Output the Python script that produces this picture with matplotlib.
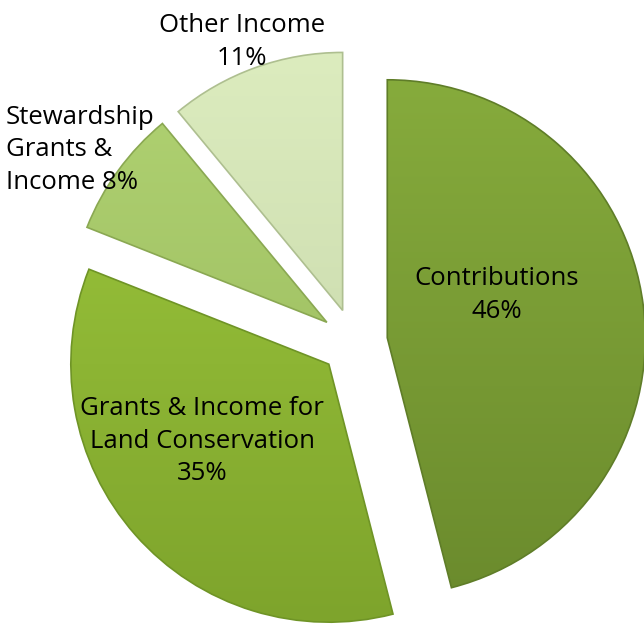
import matplotlib.pyplot as plt
import matplotlib.colors as mcolors
import numpy as np

labels = ['Contributions', 'Grants & Income for\nLand Conservation', 'Stewardship\nGrants &\nIncome', 'Other Income']
values = [46, 35, 8, 11]
top_colors = ['#86ab3c', '#9cc63c', '#b0d272', '#dcecbe']
bottom_colors = ['#6b8b2d', '#7ea42c', '#98b85c', '#c4d4a8']
edge_colors = ['#5f7d28', '#6f9426', '#8aa852', '#aebf90']

W, H = 644, 627
CX, CY, R = 354, 342, 258


def px(x, y):
    # pixel (image coords) -> data coords
    return (x - CX) / R, (CY - y) / R


fig = plt.figure(figsize=(W / 100, H / 100), dpi=100)
ax = fig.add_axes([0, 0, 1, 1])

wedges, _ = ax.pie(values, startangle=90, counterclock=False, radius=1,
                   explode=[0.13] * len(values))

for w, c1, c2, ec in zip(wedges, top_colors, bottom_colors, edge_colors):
    w.set_facecolor('none')
    w.set_edgecolor(ec)
    w.set_linewidth(1.2)
    w.set_zorder(3)
    cx, cy = w.center
    grad = np.linspace(0, 1, 256).reshape(-1, 1)
    cmap = mcolors.LinearSegmentedColormap.from_list('g', [c1, c2])
    im = ax.imshow(grad, cmap=cmap, aspect='auto', zorder=2,
                   extent=[cx - 1, cx + 1, cy - 1, cy + 1], origin='upper')
    im.set_clip_path(w)

x0, y0 = px(0, H)
x1, y1 = px(W, 0)
ax.set_xlim(x0, x1)
ax.set_ylim(y0, y1)
ax.set_aspect('auto')
ax.axis('off')

font = 'Open Sans'
fs = 18.5
ls = 1.38

tx, ty = px(497, 295)
ax.text(tx, ty, f'{labels[0]}\n{values[0]}%', ha='center', va='center',
        fontsize=fs, family=font, linespacing=ls, zorder=5)

tx, ty = px(202, 441)
ax.text(tx, ty, f'{labels[1]}\n{values[1]}%', ha='center', va='center',
        fontsize=fs, family=font, linespacing=ls, zorder=5)

tx, ty = px(6, 150)
ax.text(tx, ty, f'{labels[2]} {values[2]}%', ha='left', va='center',
        fontsize=fs, family=font, linespacing=ls, zorder=5)

tx, ty = px(242, 42)
ax.text(tx, ty, f'{labels[3]}\n{values[3]}%', ha='center', va='center',
        fontsize=fs, family=font, linespacing=ls, zorder=5)

plt.savefig('out.png', dpi=100)
plt.close()
